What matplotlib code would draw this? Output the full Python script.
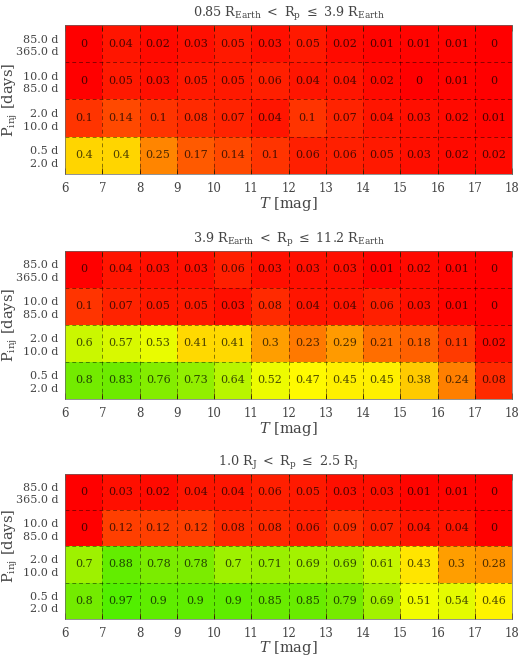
import numpy as np
import matplotlib
matplotlib.use("Agg")
import matplotlib.pyplot as plt
from matplotlib.colors import LinearSegmentedColormap

plt.rcParams['font.family'] = ['DejaVu Serif']
plt.rcParams['mathtext.fontset'] = 'dejavuserif'

# magnitude bins and period bins (rows listed top to bottom)
mag_edges = list(range(6, 19))
period_labels = ["85.0 d\n365.0 d", "10.0 d\n85.0 d", "2.0 d\n10.0 d", "0.5 d\n2.0 d"]

titles = [
    r"0.85 R$_{\rm Earth}$ $<$ R$_{\rm p}$ $\leq$ 3.9 R$_{\rm Earth}$",
    r"3.9 R$_{\rm Earth}$ $<$ R$_{\rm p}$ $\leq$ 11.2 R$_{\rm Earth}$",
    r"1.0 R$_{\rm J}$ $<$ R$_{\rm p}$ $\leq$ 2.5 R$_{\rm J}$",
]

small = [
    [0, 0.04, 0.02, 0.03, 0.05, 0.03, 0.05, 0.02, 0.01, 0.01, 0.01, 0],
    [0, 0.05, 0.03, 0.05, 0.05, 0.06, 0.04, 0.04, 0.02, 0, 0.01, 0],
    [0.1, 0.14, 0.1, 0.08, 0.07, 0.04, 0.1, 0.07, 0.04, 0.03, 0.02, 0.01],
    [0.4, 0.4, 0.25, 0.17, 0.14, 0.1, 0.06, 0.06, 0.05, 0.03, 0.02, 0.02],
]
medium = [
    [0, 0.04, 0.03, 0.03, 0.06, 0.03, 0.03, 0.03, 0.01, 0.02, 0.01, 0],
    [0.1, 0.07, 0.05, 0.05, 0.03, 0.08, 0.04, 0.04, 0.06, 0.03, 0.01, 0],
    [0.6, 0.57, 0.53, 0.41, 0.41, 0.3, 0.23, 0.29, 0.21, 0.18, 0.11, 0.02],
    [0.8, 0.83, 0.76, 0.73, 0.64, 0.52, 0.47, 0.45, 0.45, 0.38, 0.24, 0.08],
]
large = [
    [0, 0.03, 0.02, 0.04, 0.04, 0.06, 0.05, 0.03, 0.03, 0.01, 0.01, 0],
    [0, 0.12, 0.12, 0.12, 0.08, 0.08, 0.06, 0.09, 0.07, 0.04, 0.04, 0],
    [0.7, 0.88, 0.78, 0.78, 0.7, 0.71, 0.69, 0.69, 0.61, 0.43, 0.3, 0.28],
    [0.8, 0.97, 0.9, 0.9, 0.9, 0.85, 0.85, 0.79, 0.69, 0.51, 0.54, 0.46],
]
panels = [small, medium, large]

cmap = LinearSegmentedColormap.from_list(
    "ryg", [(0.0, (1, 0, 0)), (0.48, (1, 1, 0)), (0.8, (0.45, 0.92, 0)), (1.0, (0.3, 0.94, 0))])

fig = plt.figure(figsize=(5.2, 6.61), dpi=100)
boxes = [(0.125, 0.7368, 0.86, 0.2254), (0.125, 0.3964, 0.86, 0.224), (0.125, 0.064, 0.86, 0.219)]
xlabel_y = [-0.20, -0.20, -0.205]

for box, data, title, xly in zip(boxes, panels, titles, xlabel_y):
    ax = fig.add_axes(box)
    z = np.array(data)[::-1]
    ax.pcolormesh(mag_edges, np.arange(5), z, cmap=cmap, vmin=0, vmax=1)
    for j in range(z.shape[0]):
        for i in range(z.shape[1]):
            ax.text(mag_edges[i] + 0.5, j + 0.5, "%g" % z[j, i], ha='center', va='center',
                    fontsize=8, color='black', alpha=0.7)
    for x in mag_edges[1:-1]:
        ax.axvline(x, color='black', alpha=0.45, lw=0.7, dashes=(4, 3))
    for y in range(1, 4):
        ax.axhline(y, color='black', alpha=0.45, lw=0.7, dashes=(4, 3))
    ax.set_xlim(6, 18)
    ax.set_ylim(0, 4)
    ax.set_xticks(mag_edges)
    ax.set_yticks(np.arange(4) + 0.5)
    ax.set_yticklabels(period_labels[::-1], fontsize=8, ha='right', linespacing=1.3)
    ax.tick_params(axis='x', labelsize=8.5, direction='in', length=4, width=0.6,
                   color='#553300', top=True, pad=6, labelcolor='#444444')
    ax.tick_params(axis='y', length=0, pad=5, colors='#444444')
    for s in ax.spines.values():
        s.set_linewidth(0.5)
        s.set_color('#666666')
    ax.set_xlabel(r"$T$ [mag]", fontsize=10.5, color='#444444', va='center')
    ax.xaxis.set_label_coords(0.5, xly)
    ax.set_ylabel(r"P$_{\rm inj}$ [days]", fontsize=10.5, color='#444444', va='center')
    ax.yaxis.set_label_coords(-0.122, 0.5)
    ax.set_title(title, fontsize=9.2, color='#444444', pad=6)

fig.savefig("out.png", dpi=100)
